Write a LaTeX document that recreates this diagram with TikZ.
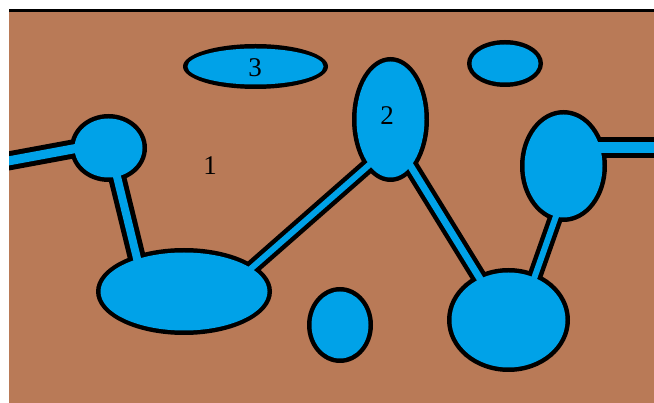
\documentclass[tikz,border=0pt]{standalone}
\usepackage{fontspec}
\setmainfont{Liberation Serif}
\definecolor{soil}{HTML}{B97A57}
\definecolor{water}{HTML}{00A2E8}
\begin{document}
\begin{tikzpicture}[x=1pt,y=-1pt,
  outerpipe/.style={line width=#1, draw=black},
  innerpipe/.style={line width=#1, draw=water},
  lbl/.style={font=\fontsize{27}{27}\selectfont, text=black, inner sep=0pt}]
\useasboundingbox (0,0) rectangle (654,403);
\fill[white] (0,0) rectangle (654,403);
\begin{scope}
\clip (9,10) rectangle (654,403);
\fill[soil] (9,10) rectangle (654,403);
% centres
\coordinate (c3) at (255.5,66.5);
\coordinate (ctr) at (505,63.5);
\coordinate (c2) at (390.5,119.5);
\coordinate (cre) at (563.5,166);
\coordinate (clc) at (108.5,148);
\coordinate (cbe) at (184,291.5);
\coordinate (csc) at (340,325);
\coordinate (cbr) at (508.5,320);
% pipe end points
\coordinate (a1) at (0,162.5); \coordinate (a2) at (100,144);
\coordinate (b1) at (110,148); \coordinate (b2) at (145,291);
\coordinate (d1) at (230,287); \coordinate (d2) at (385,151);
\coordinate (e1) at (405,157); \coordinate (e2) at (490,295);
\coordinate (f1) at (560,205); \coordinate (f2) at (530,290);
\coordinate (g1) at (590,147.5); \coordinate (g2) at (660,147.5);
% black outlines
\draw[outerpipe=19pt] (a1) -- (a2);
\draw[outerpipe=18pt] (b1) -- (b2);
\draw[outerpipe=15pt] (d1) -- (d2);
\draw[outerpipe=16pt] (e1) -- (e2);
\draw[outerpipe=15pt] (f1) -- (f2);
\draw[outerpipe=21pt] (g1) -- (g2);
\fill[black] (c3) ellipse [x radius=72.5, y radius=22.5];
\fill[black] (ctr) ellipse [x radius=38, y radius=23.5];
\fill[black] (c2) ellipse [x radius=38.5, y radius=62.5];
\fill[black] (cre) ellipse [x radius=43.5, y radius=56];
\fill[black] (clc) ellipse [x radius=38.5, y radius=34];
\fill[black] (cbe) ellipse [x radius=88, y radius=43.5];
\fill[black] (csc) ellipse [x radius=33, y radius=38];
\fill[black] (cbr) ellipse [x radius=61.5, y radius=52];
% blue interiors
\draw[innerpipe=9pt] (a1) -- (a2);
\draw[innerpipe=8pt] (b1) -- (b2);
\draw[innerpipe=6pt] (d1) -- (d2);
\draw[innerpipe=7pt] (e1) -- (e2);
\draw[innerpipe=6pt] (f1) -- (f2);
\draw[innerpipe=11pt] (g1) -- (g2);
\fill[water] (c3) ellipse [x radius=68, y radius=18];
\fill[water] (ctr) ellipse [x radius=33.5, y radius=19];
\fill[water] (c2) ellipse [x radius=34, y radius=58];
\fill[water] (cre) ellipse [x radius=39, y radius=51.5];
\fill[water] (clc) ellipse [x radius=34, y radius=29.5];
\fill[water] (cbe) ellipse [x radius=83.5, y radius=39];
\fill[water] (csc) ellipse [x radius=28.5, y radius=33.5];
\fill[water] (cbr) ellipse [x radius=57, y radius=47.5];
\end{scope}
\draw[line width=2.5pt, black] (9,10.5) -- (654,10.5);
% labels
\node[lbl] (t3) at (255,68) {3};
\node[lbl] (t2) at (387,116) {2};
\node[lbl] (t1) at (210,166) {1};
\end{tikzpicture}
\end{document}
